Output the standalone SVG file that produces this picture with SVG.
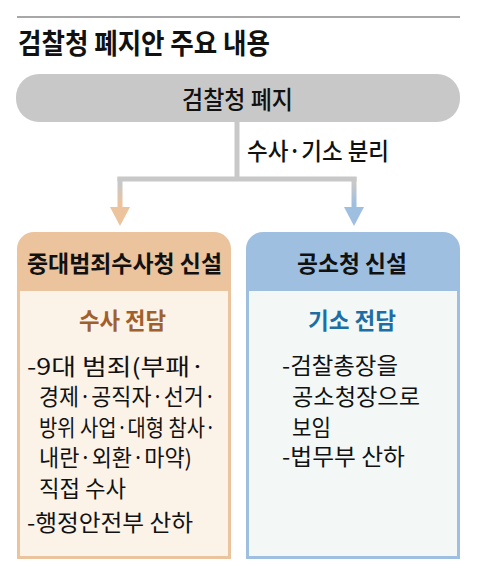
<svg xmlns="http://www.w3.org/2000/svg" width="480" height="575" viewBox="0 0 480 575">
<defs>
<style>
text{font-family:"Noto Sans CJK KR","Noto Sans",sans-serif;fill:#111;}
.title{font-size:28px;font-weight:700;}
.pill{font-size:25px;font-weight:500;}
.lbl{font-size:24px;font-weight:500;}
.hd{font-size:23px;font-weight:700;}
.sub{font-size:23px;font-weight:700;}
.body{font-size:22.5px;font-weight:400;}
.conn{stroke:#c8c8c8;stroke-width:5;fill:none;}
</style>
<linearGradient id="gOr" gradientUnits="userSpaceOnUse" x1="0" y1="184" x2="0" y2="204">
<stop offset="0" stop-color="#c8c8c8"/><stop offset="1" stop-color="#ecc39d"/>
</linearGradient>
<linearGradient id="gBl" gradientUnits="userSpaceOnUse" x1="0" y1="184" x2="0" y2="204">
<stop offset="0" stop-color="#c8c8c8"/><stop offset="1" stop-color="#9fbfe1"/>
</linearGradient>
</defs>
<rect width="480" height="575" fill="#ffffff"/>
<line x1="17" y1="17" x2="460" y2="17" stroke="#8a8a8a" stroke-width="1.5"/>
<text class="title" x="18" y="53.5" textLength="252" lengthAdjust="spacingAndGlyphs">검찰청 폐지안 주요 내용</text>

<g id="connectors">
<line class="conn" x1="237" y1="122" x2="237" y2="181"/>
<line class="conn" x1="117.5" y1="179" x2="356.5" y2="179"/>
<line x1="120" y1="177" x2="120" y2="209" stroke="url(#gOr)" stroke-width="5"/>
<line x1="354" y1="177" x2="354" y2="209" stroke="url(#gBl)" stroke-width="5"/>
<polygon points="110,207 130,207 120,226" fill="#ecc39d"/>
<polygon points="344,207 364,207 354,226" fill="#9fbfe1"/>
<text class="lbl" x="247" y="159.5" textLength="142" lengthAdjust="spacingAndGlyphs">수사·기소 분리</text>
</g>

<g id="node-abolish">
<rect x="16" y="74" width="444" height="48" rx="23" fill="#c8c8c8"/>
<text class="pill" x="182" y="108.5" textLength="111" lengthAdjust="spacingAndGlyphs">검찰청 폐지</text>
</g>

<g id="node-investigation">
<path d="M17,249 A17,17 0 0 1 34,232 L214,232 A17,17 0 0 1 231,249 L231,559 L17,559 Z" fill="#ebc39c"/>
<rect x="20" y="291" width="208" height="265" fill="#fbf2e8"/>
<text class="hd" x="27" y="271.5" textLength="195" lengthAdjust="spacingAndGlyphs">중대범죄수사청 신설</text>
<text class="sub" x="79" y="328.5" textLength="87" lengthAdjust="spacingAndGlyphs" style="fill:#a0602c">수사 전담</text>
<text class="body" x="27" y="374.5" textLength="178" lengthAdjust="spacingAndGlyphs">-9대 범죄(부패·</text>
<text class="body" x="39" y="405" textLength="177" lengthAdjust="spacingAndGlyphs">경제·공직자·선거·</text>
<text class="body" x="39" y="435.5" textLength="177" lengthAdjust="spacingAndGlyphs">방위 사업·대형 참사·</text>
<text class="body" x="39" y="466" textLength="153" lengthAdjust="spacingAndGlyphs">내란·외환·마약)</text>
<text class="body" x="39" y="496.5" textLength="87" lengthAdjust="spacingAndGlyphs">직접 수사</text>
<text class="body" x="27" y="531" textLength="166" lengthAdjust="spacingAndGlyphs">-행정안전부 산하</text>
</g>

<g id="node-prosecution">
<path d="M246,249 A17,17 0 0 1 263,232 L443,232 A17,17 0 0 1 460,249 L460,559 L246,559 Z" fill="#9fbfe1"/>
<rect x="249" y="291" width="208" height="265" fill="#f3f8f6"/>
<text class="hd" x="297" y="271.5" textLength="110" lengthAdjust="spacingAndGlyphs">공소청 신설</text>
<text class="sub" x="308" y="328.5" textLength="88" lengthAdjust="spacingAndGlyphs" style="fill:#1d6ea4">기소 전담</text>
<text class="body" x="282" y="374" textLength="116" lengthAdjust="spacingAndGlyphs">-검찰총장을</text>
<text class="body" x="292" y="405" textLength="128" lengthAdjust="spacingAndGlyphs">공소청장으로</text>
<text class="body" x="292" y="435.5" textLength="39" lengthAdjust="spacingAndGlyphs">보임</text>
<text class="body" x="282" y="464.5" textLength="123" lengthAdjust="spacingAndGlyphs">-법무부 산하</text>
</g>
</svg>
